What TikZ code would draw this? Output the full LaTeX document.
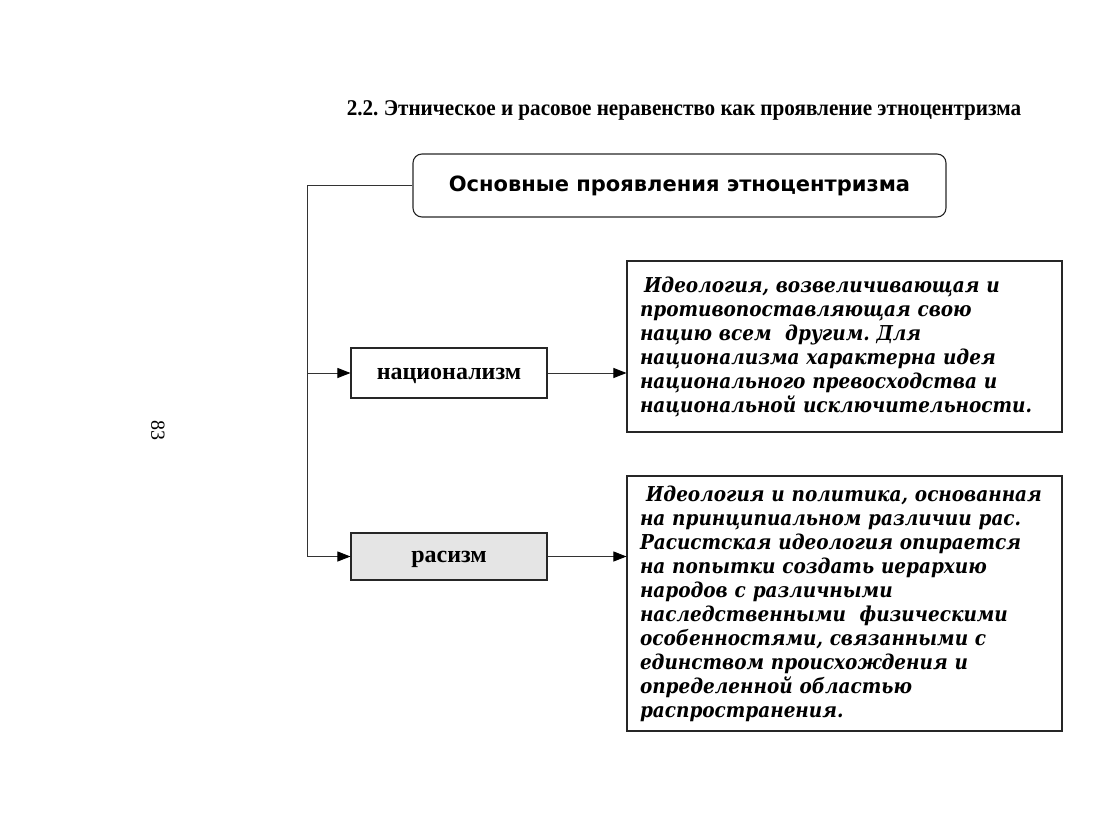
\documentclass[tikz,border=0pt]{standalone}
\usepackage{fontspec}
\setmainfont{Liberation Serif}
\newfontfamily\titlefont[FakeStretch=0.94]{Liberation Serif}
\newfontfamily\descfont[FakeStretch=0.9]{DejaVu Serif}
\newfontfamily\headfont{DejaVu Sans}
\usetikzlibrary{arrows.meta}
\begin{document}
\frenchspacing
\begin{tikzpicture}[x=1pt,y=-1pt,
  line/.style={draw=black!80, line width=0.9pt},
  arr/.style={line, -{Triangle[length=13pt,width=10pt,color=black]}},
  frame/.style={draw=black!85, line width=1.1pt, inner sep=0pt},
  term/.style={frame, minimum width=196pt, text height=12pt, text depth=0pt,
    font=\bfseries\fontsize{24}{24}\selectfont},
  desc/.style={frame, minimum width=435pt, text width=409pt, inner xsep=13pt, align=left,
    font=\descfont\bfseries\itshape\fontsize{20.5}{24}\selectfont}]
\useasboundingbox (0,0) rectangle (1104,830);

\node[font=\titlefont\bfseries\fontsize{22.5}{22.5}\selectfont] (title) at (684,110)
  {2.2. Этническое и расовое неравенство как проявление этноцентризма};

\node[rotate=-90, font=\fontsize{20}{20}\selectfont] (page) at (158,430) {83};

\node[frame, rounded corners=9pt, minimum width=533pt, minimum height=63pt,
  font=\headfont\bfseries\fontsize{21}{21}\selectfont] (head) at (679.5,185.5)
  {Основные проявления этноцентризма};

\node[term, minimum height=50pt] (nat) at (449,373) {национализм};
\node[term, minimum height=47pt, fill=black!10] (rac) at (449,556.5) {расизм};

\node[desc, minimum height=171pt] (d1) at (844.5,346.5)
  {\hspace*{4pt}Идеология, возвеличивающая и\\
   противопоставляющая свою\\
   нацию всем \ другим. Для\\
   национализма характерна идея\\
   национального превосходства и\\
   национальной исключительности.\\[10pt]};

\node[desc, minimum height=255pt] (d2) at (844.5,603.5)
  {\hspace*{6pt}Идеология и политика, основанная\\
   на принципиальном различии рас.\\
   Расистская идеология опирается\\
   на попытки создать иерархию\\
   народов с различными\\
   наследственными \ физическими\\
   особенностями, связанными с\\
   единством происхождения и\\
   определенной областью\\
   распространения.};

\coordinate (tx) at (307,0);
\draw[line] (head.west) -- (head.west -| tx) -- (rac.west -| tx);
\draw[arr] (nat.west -| tx) -- (nat.west);
\draw[arr] (rac.west -| tx) -- (rac.west);
\draw[arr] (nat.east) -- (d1.west |- nat.east);
\draw[arr] (rac.east) -- (d2.west |- rac.east);
\end{tikzpicture}
\end{document}
